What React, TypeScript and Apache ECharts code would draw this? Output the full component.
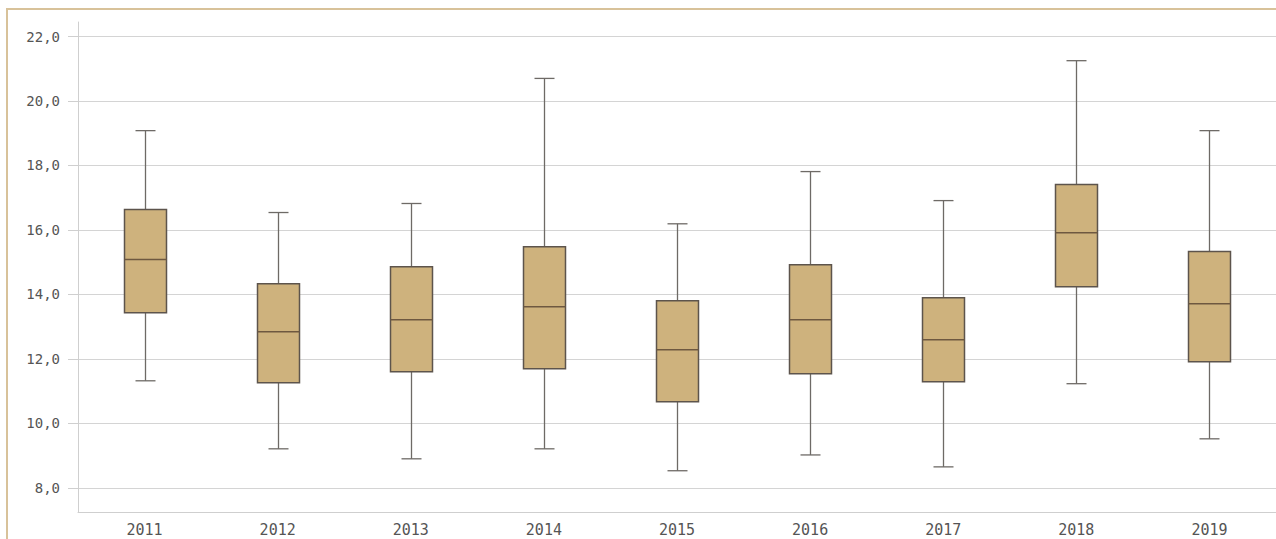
import React, { useEffect, useRef } from "react";
import * as echarts from "echarts";

const years = ["2011", "2012", "2013", "2014", "2015", "2016", "2017", "2018", "2019"];
const whiskerLow = [11.32, 9.21, 8.9, 9.21, 8.53, 9.02, 8.65, 11.23, 9.52];
const q1 = [13.43, 11.26, 11.6, 11.69, 10.67, 11.54, 11.29, 14.24, 11.91];
const median = [15.08, 12.84, 13.21, 13.62, 12.28, 13.21, 12.59, 15.91, 13.71];
const q3 = [16.63, 14.33, 14.86, 15.48, 13.8, 14.92, 13.9, 17.41, 15.33];
const whiskerHigh = [19.08, 16.54, 16.82, 20.7, 16.19, 17.81, 16.91, 21.25, 19.08];
const yTicks = [8, 10, 12, 14, 16, 18, 20, 22];

export default function App() {
  const ref = useRef<HTMLDivElement>(null);
  useEffect(() => {
    if (!ref.current) return;
    const chart = echarts.init(ref.current, undefined, { renderer: "svg" });
    const data = years.map((_, i) => [i, whiskerLow[i], q1[i], median[i], q3[i], whiskerHigh[i]]);
    const boxW = 42;
    const capW = 20;
    const whiskerStyle = { stroke: "#6e6a66", lineWidth: 1.3 };
    const renderItem = (params: any, api: any) => {
      const x = api.value(0);
      const pLow = api.coord([x, api.value(1)]);
      const pQ1 = api.coord([x, api.value(2)]);
      const pMed = api.coord([x, api.value(3)]);
      const pQ3 = api.coord([x, api.value(4)]);
      const pHigh = api.coord([x, api.value(5)]);
      const cx = Math.round(pMed[0]) + 0.5;
      return {
        type: "group",
        children: [
          { type: "line", shape: { x1: cx, y1: pHigh[1], x2: cx, y2: pQ3[1] }, style: whiskerStyle },
          { type: "line", shape: { x1: cx, y1: pQ1[1], x2: cx, y2: pLow[1] }, style: whiskerStyle },
          { type: "line", shape: { x1: cx - capW / 2, y1: pHigh[1], x2: cx + capW / 2, y2: pHigh[1] }, style: whiskerStyle },
          { type: "line", shape: { x1: cx - capW / 2, y1: pLow[1], x2: cx + capW / 2, y2: pLow[1] }, style: whiskerStyle },
          {
            type: "rect",
            shape: { x: cx - boxW / 2, y: pQ3[1], width: boxW, height: pQ1[1] - pQ3[1] },
            style: { fill: "#ceb27d", stroke: "#5d544c", lineWidth: 1.5 },
          },
          {
            type: "line",
            shape: { x1: cx - boxW / 2, y1: pMed[1], x2: cx + boxW / 2, y2: pMed[1] },
            style: { stroke: "#6e5840", lineWidth: 1.5 },
          },
        ],
      };
    };
    chart.setOption({
      animation: false,
      backgroundColor: "transparent",
      grid: { left: 78, width: 1199.5, top: 22, bottom: 27 },
      xAxis: {
        type: "category",
        data: years,
        boundaryGap: true,
        axisLine: { show: true, lineStyle: { color: "#cfcfcf", width: 1 } },
        axisTick: { show: false },
        axisLabel: {
          margin: 10,
          fontFamily: "DejaVu Sans Mono",
          fontSize: 15,
          color: "#555",
        },
        splitLine: { show: false },
      },
      yAxis: {
        type: "value",
        min: 7.25,
        max: 22.45,
        axisLine: { show: true, lineStyle: { color: "#cfcfcf", width: 1 } },
        axisTick: {
          show: true,
          length: 10,
          customValues: yTicks,
          lineStyle: { color: "#cfcfcf" },
        },
        axisLabel: {
          customValues: yTicks,
          margin: 18,
          fontFamily: "DejaVu Sans Mono",
          fontSize: 14,
          color: "#555",
          formatter: (v: number) => v.toFixed(1).replace(".", ","),
        },
        splitLine: { show: true, lineStyle: { color: "#d4d4d4", width: 1 } },
      },
      series: [
        {
          type: "custom",
          data,
          encode: { x: 0, y: [1, 2, 3, 4, 5] },
          renderItem,
        },
      ],
    });
    return () => chart.dispose();
  }, []);
  return (
    <div
      style={{
        position: "absolute",
        left: 0,
        top: 0,
        width: 1276,
        height: 539,
        overflow: "hidden",
        background: "#fff",
      }}
    >
      <div
        style={{
          position: "absolute",
          left: 6,
          top: 8,
          width: 1400,
          height: 700,
          border: "2px solid #d8c29a",
          boxSizing: "border-box",
        }}
      />
      <div ref={ref} style={{ position: "absolute", left: 0, top: 0, width: 1276, height: 539 }} />
    </div>
  );
}
